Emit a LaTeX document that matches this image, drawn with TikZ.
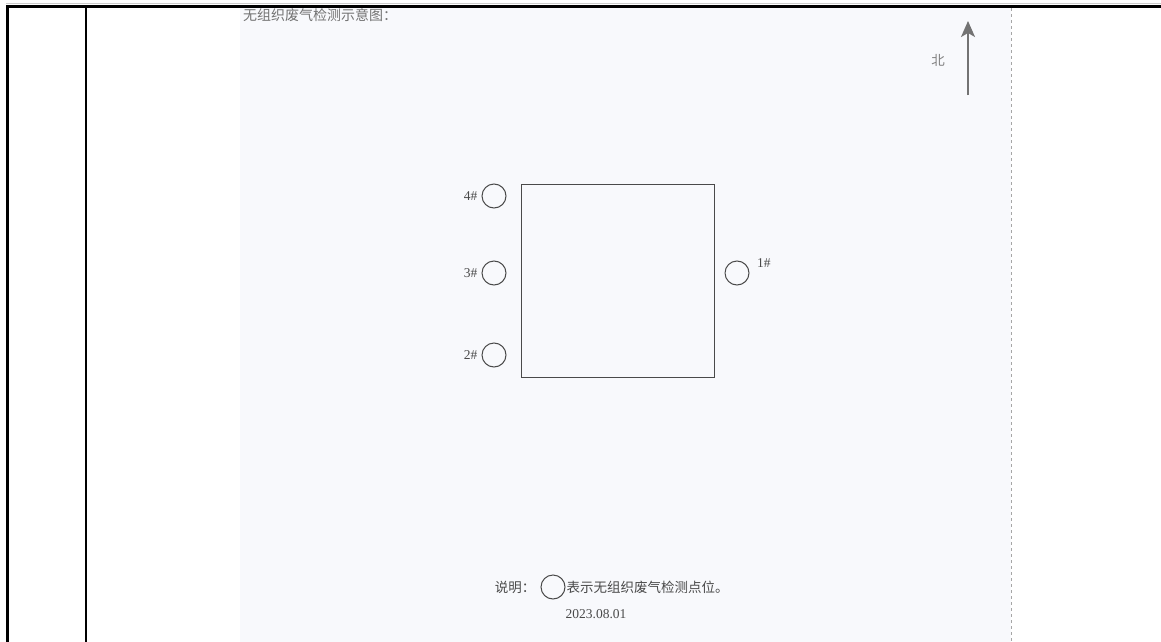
\documentclass[tikz,border=0pt]{standalone}
\usepackage{fontspec}
\setmainfont{Liberation Serif}
\newfontfamily\cjk{Noto Sans CJK SC}
\usetikzlibrary{arrows.meta,positioning}

\definecolor{scanbg}{HTML}{F8F9FC}
\definecolor{ink}{HTML}{4A4A4A}

\tikzset{
	spot/.style={draw=ink, circle, minimum size=24pt, inner sep=0pt, line width=1pt},
	num/.style={text=ink, font=\fontsize{13.5}{13.5}\selectfont, inner sep=1pt},
	hanzi/.style={text=ink, font=\cjk\fontsize{13.5}{13.5}\selectfont, inner sep=0pt}
}

\begin{document}
\begin{tikzpicture}[x=1pt, y=-1pt]
		\useasboundingbox (0,0) rectangle (1161,642);

		% scanned sheet
		\fill[scanbg] (240,8) rectangle (1011,642);
		\draw[gray!70, dashed, line width=0.8pt] (1011,8) -- (1011,642);

		% table rules
		\draw[gray!40, line width=1pt] (6,3.5) -- (1161,3.5);
		\draw[line width=2.5pt] (6,6.5) -- (1161,6.5);
		\draw[line width=3pt] (7,6) -- (7,642);
		\draw[line width=1.8pt] (86,6) -- (86,642);

		\draw (243,15) node [hanzi, anchor=west, text=gray!90!black, font=\cjk\fontsize{14}{14}\selectfont] (title) {无组织废气检测示意图：};

		% north arrow
		\coordinate (ntail) at (968,95);
		\coordinate (nhead) at (968,21);
		\draw[gray!90!black, line width=1.8pt, -{Stealth[length=16pt, width=14pt, inset=4pt]}] (ntail) -- (nhead);
		\draw (938,60) node [hanzi, text=gray] (north) {北};

		% plant and monitoring points
		\draw (617.5,280.5) node [draw=ink, line width=1pt, minimum width=193pt, minimum height=193pt] (plant) {};

		\draw (494,196) node [spot] (p4) {};
		\draw (494,273) node [spot] (p3) {};
		\draw (494,355) node [spot] (p2) {};
		\draw (737,273) node [spot] (p1) {};

		\node [num, left=3pt of p4] (l4) {4\#};
		\node [num, left=3pt of p3] (l3) {3\#};
		\node [num, left=3pt of p2] (l2) {2\#};
		\node [num, above right=-5pt and 10pt of p1] (l1) {1\#};

		% legend
		\draw (553,587) node [spot] (key) {};
		\node [hanzi, left=5pt of key] (note) {说明：};
		\node [hanzi, right=1pt of key] (desc) {表示无组织废气检测点位。};
		\draw (596,614) node [num] (date) {2023.08.01};
	\end{tikzpicture}
\end{document}
